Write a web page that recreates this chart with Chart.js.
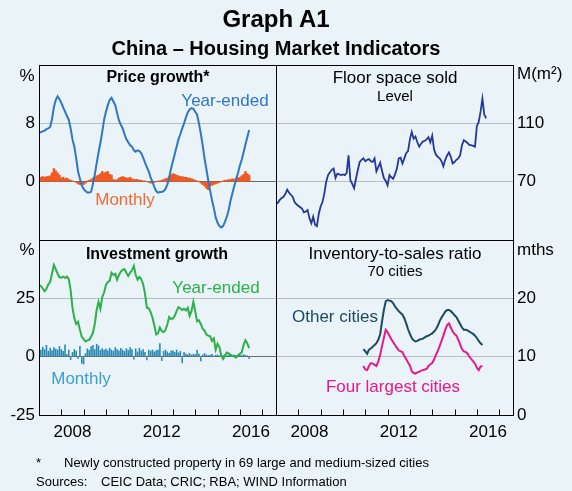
<!DOCTYPE html>
<html>
<head>
<meta charset="utf-8">
<script src="https://cdn.jsdelivr.net/npm/chart.js@4.4.1/dist/chart.umd.min.js"></script>
<style>
  body { margin: 0; background: #eaf3f7; }
  #wrap { position: relative; width: 572px; height: 491px; background: #eaf3f7; overflow: hidden;
          font-family: Arial, "Liberation Sans", sans-serif; color: #000; }
  #wrap canvas { position: absolute; left: 0; top: 0; }
  .c, .l { position: absolute; white-space: nowrap; line-height: 1; }
  .c { transform: translate(-50%, -50%); }
  .l { transform: translateY(-50%); }
</style>
</head>
<body>
<div id="wrap">
  <canvas id="priceChart" width="572" height="491"></canvas>
  <canvas id="floorChart" width="572" height="491"></canvas>
  <canvas id="investChart" width="572" height="491"></canvas>
  <canvas id="inventoryChart" width="572" height="491"></canvas>

  <div class="c" style="left:276px; top:19px; font-size:24px; font-weight:bold;">Graph A1</div>
  <div class="c" style="left:276px; top:48px; font-size:20px; font-weight:bold;">China – Housing Market Indicators</div>

  <!-- unit labels -->
  <div class="c" style="left:27px; top:75px; font-size:17px;">%</div>
  <div class="l" style="left:517px; top:73px; font-size:17px;">M(m²)</div>
  <div class="c" style="left:27px; top:249px; font-size:17px;">%</div>
  <div class="l" style="left:517px; top:249px; font-size:17px;">mths</div>

  <!-- panel titles -->
  <div class="c" style="left:158px; top:77px; font-size:16px; font-weight:bold;">Price growth*</div>
  <div class="c" style="left:395px; top:77px; font-size:17px;">Floor space sold</div>
  <div class="c" style="left:395px; top:95px; font-size:15px;">Level</div>
  <div class="c" style="left:157px; top:254px; font-size:16px; font-weight:bold;">Investment growth</div>
  <div class="c" style="left:395px; top:253px; font-size:17px;">Inventory-to-sales ratio</div>
  <div class="c" style="left:395px; top:270px; font-size:15px;">70 cities</div>

  <!-- series labels -->
  <div class="c" style="left:225px; top:100px; font-size:17px; color:#2f76c4;">Year-ended</div>
  <div class="c" style="left:125px; top:199px; font-size:17px; color:#f26a34;">Monthly</div>
  <div class="c" style="left:216px; top:287px; font-size:17px; color:#2bb04a;">Year-ended</div>
  <div class="c" style="left:81px; top:378px; font-size:17px; color:#3ba0cf;">Monthly</div>
  <div class="c" style="left:335px; top:316px; font-size:17px; color:#1b4a5e;">Other cities</div>
  <div class="c" style="left:393px; top:386px; font-size:17px; color:#e4198a;">Four largest cities</div>

  <!-- footnotes -->
  <div class="l" style="left:36px; top:462px; font-size:13px;">*</div>
  <div class="l" style="left:64px; top:462px; font-size:13px;">Newly constructed property in 69 large and medium-sized cities</div>
  <div class="l" style="left:36px; top:481px; font-size:13px;">Sources:</div>
  <div class="l" style="left:101px; top:481px; font-size:13px;">CEIC Data; CRIC; RBA; WIND Information</div>
</div>

<script>
// monthly data, first value = Jan 2007 unless noted
const START_YEAR = 2007;
const X_MIN = 2007;
const X_MAX = 2017.62;
const yearLabels = [2008, 2012, 2016];
const yearTicks = [2008, 2009, 2010, 2011, 2012, 2013, 2014, 2015, 2016, 2017];

// Price growth, year-ended (%)
const priceYearEnded = [
  6.7, 6.8, 6.9, 7.0, 7.2, 7.3, 7.5, 8.6, 10.2, 11.2, 11.7, 11.3,
  10.8, 10.2, 9.6, 9.0, 8.5, 7.3, 5.8, 4.8, 3.2, 1.4, 0.4, -0.5,
  -1.0, -1.3, -1.5, -1.5, -1.4, -0.3, 1.0, 2.5, 4.0, 5.3, 6.8, 8.5,
  9.6, 10.5, 11.2, 11.5, 11.0, 10.5, 9.4, 8.4, 7.8, 7.3, 6.5, 5.8,
  5.4, 5.0, 4.8, 4.3, 4.1, 4.3, 4.2, 3.9, 3.3, 2.6, 2.0, 1.4,
  0.6, 0.0, -0.7, -1.3, -1.5, -1.4, -1.4, -1.3, -1.0, -0.4, 0.5, 1.8,
  2.8, 3.8, 4.8, 5.8, 6.5, 7.3, 8.0, 8.8, 9.5, 9.9, 10.1, 10.0,
  9.6, 9.2, 8.0, 6.6, 5.0, 3.2, 1.7, 0.2, -1.2, -2.5, -3.6, -4.9,
  -5.6, -6.1, -6.3, -6.1, -5.5, -4.8, -3.9, -2.6, -1.6, -0.6, 0.3, 1.2,
  2.2, 3.0, 4.0, 5.1, 6.1, 7.1
];

// Price growth, monthly (%)
const priceMonthly = [
  0.6, 0.6, 0.7, 0.6, 0.7, 0.7, 0.8, 1.2, 1.8, 1.5, 1.2, 0.9,
  0.5, 0.6, 0.4, 0.5, 0.3, 0.2, 0.1, 0.0, -0.1, -0.3, -0.4, -0.3,
  -0.4, -0.2, 0.1, 0.2, 0.3, 0.5, 0.6, 0.8, 0.9, 1.1, 1.4, 1.2,
  1.3, 1.4, 1.0, 0.9, 0.3, 0.2, 0.3, 0.5, 0.6, 0.7, 0.6, 0.5,
  0.5, 0.6, 0.4, 0.3, 0.3, 0.3, 0.2, 0.2, 0.1, 0.1, 0.0, -0.1,
  -0.2, -0.2, -0.1, 0.0, 0.1, 0.1, 0.2, 0.3, 0.4, 0.5, 0.7, 0.9,
  1.1, 1.0, 0.9, 0.8, 0.7, 0.7, 0.6, 0.6, 0.5, 0.5, 0.4, 0.3,
  0.2, 0.1, 0.0, -0.2, -0.4, -0.6, -0.9, -1.1, -0.6, -0.5, -0.4, -0.3,
  -0.2, -0.1, 0.0, 0.1, 0.2, 0.2, 0.3, 0.3, 0.4, 0.3, 0.5, 0.5,
  0.6, 0.8, 1.0, 1.4, 1.1, 0.9
];

// Floor space sold, level (million m2)
const floorSpace = [
  54.7, 55.5, 57.5, 58.8, 59.5, 61.5, 64.5, 62.5, 61, 59.5, 56, 54.5,
  53.5, 52.5, 51.5, 49, 49.5, 50.5, 45, 41.5, 46, 40.5, 39.5, 48,
  53, 56, 62, 70, 74.5, 76.5, 78, 79, 72.5, 75.5, 75, 74.5,
  75, 74.5, 76, 88, 71, 68.5, 65.5, 72, 78, 83.5, 85, 86,
  84, 85, 85.5, 84, 83.5, 86, 77, 80, 83, 77.5, 72.5, 70.5,
  67.5, 74.5, 73, 72, 75, 79, 86, 86.5, 82.5, 86, 89.5, 91,
  99, 104, 99.5, 101, 97, 94, 96, 97.5, 98, 99, 100.5, 97,
  101.5, 92, 88.5, 87, 86, 84, 80.5, 85, 88, 90, 87, 82.5,
  83.5, 85, 86, 88, 95, 98.5, 97.5, 96.5, 95, 95, 94.5, 94,
  108, 111, 118, 127, 116, 113.5
];

// Investment growth, year-ended (%)
const investYearEnded = [
  30.7, 30.3, 29.2, 28, 29, 31, 32, 35.7, 39.3, 37.5, 35.5, 34,
  33.8, 34.3, 33.8, 34.3, 33.2, 28.5, 21, 16.5, 14, 15, 11.5, 8.5,
  7.5, 6.5, 7, 7.2, 8.5, 10.2, 14, 20, 23.5, 20.5, 25.5, 27.5,
  30.8, 32, 32.5, 36, 35, 35.5, 33, 35, 36.5, 37.3, 37.5, 36,
  34.6, 36, 37, 38.9, 35, 33, 34.2, 33.2, 31, 27, 21, 20.7,
  19.2, 16.8, 13.5, 9.5, 10, 12.5, 11, 10.5, 11.4, 13.8, 17, 16.2,
  16.3, 17.5, 19.5, 21.2, 20.7, 20, 20.5, 19.8, 21, 17.5, 19.6, 23.5,
  19.5, 15.2, 15.6, 14, 12, 11.2, 9.5, 9, 8.7, 6.8, 7.8, 3,
  5.5, 4.2, 0.5, -1, 0.3, 1.8, 1.4, 0.7, 0.4, 0, -0.4, 0.5,
  1.2, 1.8, 5, 7, 5.7, 3.6
];

// Investment growth, monthly (%)
const investMonthly = [
  3.5, 3.0, 4.2, 3.2, 5.0, 2.5, 3.8, 2.8, 4.0, 3.4, 3.0, 4.5,
  3.2, 2.4, 5.2, 1.0, 3.0, -1.4, 2.0, 3.2, 2.5, -1.0, 4.6, -3.0,
  -3.3, 1.5, 3.5, 2.8, 4.5, 5.0, 3.2, 5.5, 4.8, 2.8, 3.6, 3.0,
  3.4, 2.6, 3.8, 3.0, 2.5, 4.0, 3.2, 2.6, 3.7, 3.0, 2.4, 3.6,
  2.8, 4.0, 3.2, -1.2, 3.5, 2.2, 3.8, 2.6, 3.2, 2.0, -1.5, 3.0,
  2.5, 3.0, 2.2, 2.8, 3.0, 5.7, -1.8, 2.4, 3.0, 2.2, 1.6, 2.5,
  2.8, 2.0, 3.0, 1.8, 2.4, -2.8, 2.0, 1.2, 1.0, 1.5, 0.8, 1.2,
  1.0, 3.0, 1.2, -2.0, 0.8, 1.5, 0.9, 0.6, 0.8, 1.1, 0.4, 0.7,
  0.9, 0.5, 0.8, 0.6, 1.0, 0.5, 0.7, 0.8, 0.6, 0.9, 0.7, 0.5,
  0.8, 0.6, 1.0, 0.7, 0.5, -1.0
];

// Inventory-to-sales ratio (months), first value = Dec 2010
const inventoryStart = 47;
const otherCities = [
  11.3, 10.9, 10.5, 11.2, 11.4, 11.7, 12.0, 12.3, 12.9, 13.8,
  16.0, 18.0, 19.5, 19.7, 19.6, 19.5, 19.2, 18.6, 18.2, 17.8,
  17.5, 17.2, 16.6, 15.7, 14.7, 13.9, 13.2, 12.8, 12.6, 12.7,
  12.9, 13.0, 13.1, 13.3, 13.5, 13.6, 13.8, 14.0, 14.3, 14.7,
  15.3, 16.1, 16.7, 17.2, 17.7, 18.0, 18.0, 17.8, 17.5, 17.1,
  16.8, 16.2, 15.6, 15.0, 14.6, 14.6, 14.5, 14.3, 14.1, 13.9,
  13.6, 13.2, 12.7, 12.3, 12.0
];
const fourLargest = [
  8.4, 7.8, 7.7, 8.4, 8.9, 8.8, 8.6, 8.4, 9.2, 10.3,
  11.8, 13.2, 14.6, 14.2, 13.6, 13.0, 12.5, 12.0, 11.5, 11.1,
  10.9, 10.8, 10.1, 9.6, 9.0, 8.5, 7.5, 7.2, 7.1, 7.3,
  7.4, 7.6, 7.7, 7.8, 7.9, 8.4, 8.7, 8.9, 9.5, 10.3,
  11.0, 11.8, 12.7, 13.6, 14.6, 15.4, 15.7, 15.0, 14.3, 13.9,
  13.6, 12.9, 12.1, 11.3, 10.9, 10.8, 10.5, 10.0, 9.6, 9.2,
  8.8, 8.1, 7.7, 8.3, 8.4
];

function toPoints(values, startMonth) {
  return values.map((v, i) => ({ x: START_YEAR + (startMonth + i) / 12, y: v }));
}

Chart.defaults.font.family = 'Arial, "Liberation Sans", sans-serif';
Chart.defaults.font.size = 17;
Chart.defaults.color = '#000';

// black box round each panel, plus year ticks on the bottom row
const framePlugin = {
  id: 'frame',
  afterDatasetsDraw(chart, args, opts) {
    const ctx = chart.ctx;
    const a = chart.chartArea;
    const l = Math.round(a.left) + 0.5, r = Math.round(a.right) + 0.5;
    const t = Math.round(a.top) + 0.5, b = Math.round(a.bottom) + 0.5;
    ctx.save();
    ctx.strokeStyle = '#000';
    ctx.lineWidth = 1;
    ctx.strokeRect(l, t, r - l, b - t);
    if (opts.ticks) {
      const x = chart.scales.x;
      ctx.beginPath();
      yearTicks.forEach(yr => {
        const px = Math.round(x.getPixelForValue(yr)) + 0.5;
        ctx.moveTo(px, b);
        ctx.lineTo(px, b - 6);
      });
      ctx.stroke();
    }
    ctx.restore();
  }
};

function panel(id, cfg) {
  return new Chart(document.getElementById(id), {
    data: { datasets: cfg.datasets },
    options: {
      responsive: false,
      animation: false,
      devicePixelRatio: 1,
      layout: { padding: cfg.padding },
      plugins: {
        legend: { display: false },
        tooltip: { enabled: false },
        frame: { ticks: cfg.bottom }
      },
      scales: {
        x: {
          type: 'linear',
          min: X_MIN,
          max: X_MAX,
          offset: false,
          display: cfg.bottom,
          grid: { display: false, drawTicks: false, offset: false },
          border: { display: false },
          afterBuildTicks: s => { s.ticks = yearLabels.map(y => ({ value: y + 0.5 })); },
          afterFit: s => { s.height = cfg.bottom ? 30 : 0; },
          ticks: { autoSkip: false, maxRotation: 0, padding: 7, callback: v => String(Math.floor(v)) }
        },
        y: {
          position: cfg.side,
          min: cfg.min,
          max: cfg.max,
          afterBuildTicks: s => { s.ticks = cfg.ticks.map(v => ({ value: v })); },
          afterFit: s => { s.width = cfg.side === 'left' ? 39 : 59; },
          grid: {
            drawTicks: false,
            color: c => (cfg.zero && c.tick && c.tick.value === 0) ? '#6b6b6b' : '#b9bec2'
          },
          border: { display: false },
          ticks: { padding: 4, callback: v => cfg.labels.includes(v) ? String(v) : '' }
        }
      }
    },
    plugins: [framePlugin]
  });
}

const lineStyle = { type: 'line', pointRadius: 0, borderWidth: 2, tension: 0, fill: false };

panel('priceChart', {
  side: 'left', bottom: false, zero: true,
  padding: { left: 0, top: 65, right: 296, bottom: 251 },
  min: -8, max: 16, ticks: [-8, 0, 8, 16], labels: [0, 8],
  datasets: [
    Object.assign({}, lineStyle, { data: toPoints(priceYearEnded, 0), borderColor: '#2f76c4' }),
    { type: 'bar', data: toPoints(priceMonthly, 0), backgroundColor: '#f05a22',
      barPercentage: 1, categoryPercentage: 1, borderWidth: 0 }
  ]
});

panel('floorChart', {
  side: 'right', bottom: false, zero: false,
  padding: { left: 276, top: 65, right: 0, bottom: 251 },
  min: 30, max: 150, ticks: [30, 70, 110, 150], labels: [70, 110],
  datasets: [
    Object.assign({}, lineStyle, { data: toPoints(floorSpace, 0), borderColor: '#24389c', borderWidth: 1.8 })
  ]
});

panel('investChart', {
  side: 'left', bottom: true, zero: true,
  padding: { left: 0, top: 240, right: 296, bottom: 46 },
  min: -25, max: 50, ticks: [-25, 0, 25, 50], labels: [-25, 0, 25],
  datasets: [
    Object.assign({}, lineStyle, { data: toPoints(investYearEnded, 0), borderColor: '#2bb04a' }),
    { type: 'bar', data: toPoints(investMonthly, 0), backgroundColor: '#2789b6',
      barPercentage: 0.85, categoryPercentage: 1, borderWidth: 0 }
  ]
});

panel('inventoryChart', {
  side: 'right', bottom: true, zero: false,
  padding: { left: 276, top: 240, right: 0, bottom: 46 },
  min: 0, max: 30, ticks: [0, 10, 20, 30], labels: [0, 10, 20],
  datasets: [
    Object.assign({}, lineStyle, { data: toPoints(otherCities, inventoryStart), borderColor: '#1b4a5e' }),
    Object.assign({}, lineStyle, { data: toPoints(fourLargest, inventoryStart), borderColor: '#e4198a' })
  ]
});
</script>
</body>
</html>
